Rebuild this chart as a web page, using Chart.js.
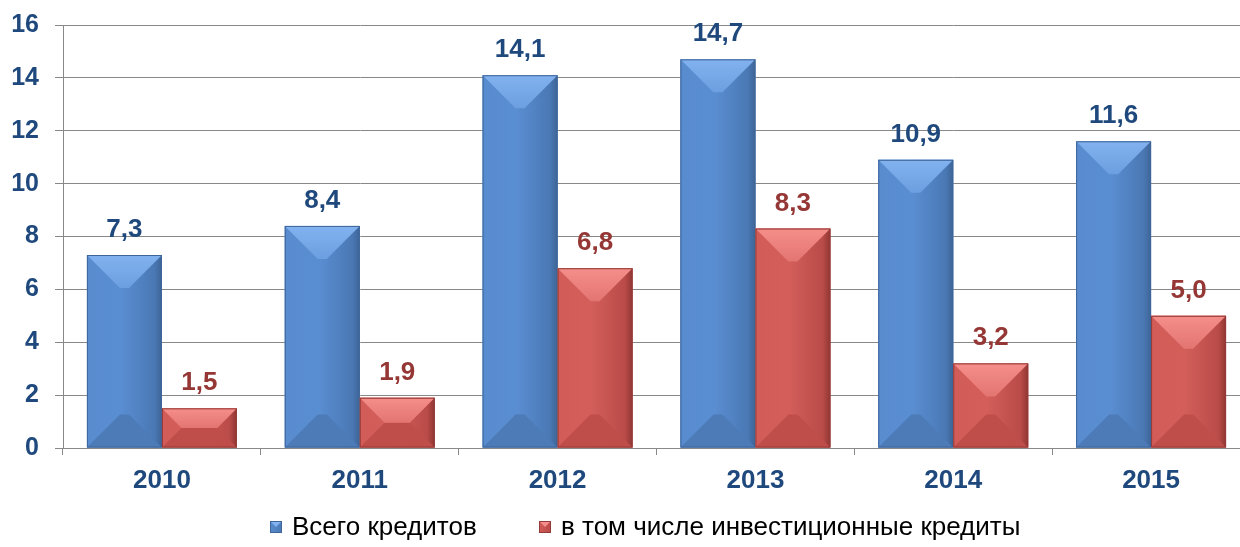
<!DOCTYPE html>
<html>
<head>
<meta charset="utf-8">
<script src="https://cdn.jsdelivr.net/npm/chart.js@4/dist/chart.umd.min.js"></script>
<style>
  html, body { margin: 0; padding: 0; overflow: hidden; background: #ffffff; }
  #wrap { width: 1250px; height: 547px; position: relative; }
</style>
</head>
<body>
<div id="wrap"><canvas id="c"></canvas></div>
<script>
// ---- data ----
const years = ['2010', '2011', '2012', '2013', '2014', '2015'];
const totalLoans = [7.3, 8.4, 14.1, 14.7, 10.9, 11.6];
const investLoans = [1.5, 1.9, 6.8, 8.3, 3.2, 5.0];
const seriesNames = ['Всего кредитов', 'в том числе инвестиционные кредиты'];
const yMin = 0, yMax = 16, yStep = 2;

// ---- styles ----
const FONT = '"Liberation Sans", Arial, sans-serif';
const AXIS_BLUE = '#1F497D';
const GRID = '#888888';
const AREA_TOP = 25, AREA_BOTTOM = 448, AREA_LEFT = 63;
const palettes = [
  { left: '#588CCF', mid: '#5A8ED2', right: '#4A78B4', edge: '#3D6496', top1: '#82B2EF', top2: '#6C9FE0',
    bottom: '#4C7BB8', outline: '#3F6699', label: '#1F497D' },
  { left: '#D25C58', mid: '#D35E5A', right: '#B94B48', edge: '#8F3633', top1: '#F58E8A', top2: '#E37571',
    bottom: '#BF4E4A', outline: '#943A37', label: '#953735' }
];

function fmt(v) { return v.toFixed(1).replace('.', ','); }

const bevelPlugin = {
  id: 'bevel',
  afterDatasetsDraw(chart) {
    const ctx = chart.ctx;
    chart.data.datasets.forEach((ds, di) => {
      const meta = chart.getDatasetMeta(di);
      const p = palettes[di];
      meta.data.forEach(el => {
        const { x, y, base, width } = el.getProps(['x', 'y', 'base', 'width'], true);
        const l = x - width / 2, r = x + width / 2;
        const t = Math.min(y, base), b = Math.max(y, base);
        const h = b - t;
        const bv = Math.min(width * 0.44, h / 2);
        ctx.save();
        const g = ctx.createLinearGradient(l, 0, r, 0);
        g.addColorStop(0, p.left); g.addColorStop(0.45, p.mid); g.addColorStop(0.9, p.right); g.addColorStop(1, p.edge);
        ctx.fillStyle = g;
        ctx.fillRect(l, t, width, h);
        ctx.fillStyle = p.bottom;
        ctx.beginPath(); ctx.moveTo(l, b); ctx.lineTo(l + bv, b - bv); ctx.lineTo(r - bv, b - bv); ctx.lineTo(r, b); ctx.closePath(); ctx.fill();
        const tg = ctx.createLinearGradient(0, t, 0, t + bv);
        tg.addColorStop(0, p.top1); tg.addColorStop(1, p.top2);
        ctx.fillStyle = tg;
        ctx.beginPath(); ctx.moveTo(l, t); ctx.lineTo(r, t); ctx.lineTo(r - bv, t + bv); ctx.lineTo(l + bv, t + bv); ctx.closePath(); ctx.fill();
        ctx.strokeStyle = p.outline; ctx.lineWidth = 1;
        ctx.strokeRect(l + 0.5, t + 0.5, width - 1, h - 1);
        ctx.restore();
      });
    });
  }
};

const labelPlugin = {
  id: 'valueLabels',
  afterDatasetsDraw(chart) {
    const ctx = chart.ctx;
    ctx.save();
    ctx.font = 'bold 26px ' + FONT;
    ctx.textAlign = 'center';
    ctx.textBaseline = 'alphabetic';
    chart.data.datasets.forEach((ds, di) => {
      const meta = chart.getDatasetMeta(di);
      ctx.fillStyle = palettes[di].label;
      meta.data.forEach((el, i) => {
        const { x, y } = el.getProps(['x', 'y'], true);
        ctx.fillText(fmt(ds.data[i]), x, y - 18);
      });
    });
    ctx.restore();
  }
};

const legendPlugin = {
  id: 'customLegend',
  afterDraw(chart) {
    const ctx = chart.ctx;
    ctx.save();
    ctx.font = '26px ' + FONT;
    ctx.textBaseline = 'middle';
    const box = 12, gapBox = 10, gapItem = 62;
    const items = chart.data.datasets.map((ds, i) => ({ text: ds.label, w: ctx.measureText(ds.label).width, p: palettes[i] }));
    let total = 0;
    items.forEach((it, i) => { total += box + gapBox + it.w + (i < items.length - 1 ? gapItem : 0); });
    let x = 645 - total / 2;
    const cy = 527;
    items.forEach(it => {
      const bx = Math.round(x), by = cy - box / 2;
      const g = ctx.createLinearGradient(bx, 0, bx + box, 0);
      g.addColorStop(0, it.p.left); g.addColorStop(1, it.p.right);
      ctx.fillStyle = g; ctx.fillRect(bx, by, box, box);
      ctx.fillStyle = it.p.top1;
      ctx.beginPath(); ctx.moveTo(bx, by); ctx.lineTo(bx + box, by); ctx.lineTo(bx + box / 2, by + box / 2); ctx.closePath(); ctx.fill();
      ctx.strokeStyle = it.p.outline; ctx.lineWidth = 1;
      ctx.strokeRect(bx + 0.5, by + 0.5, box - 1, box - 1);
      ctx.fillStyle = '#000000';
      ctx.textAlign = 'left';
      ctx.fillText(it.text, bx + box + gapBox, cy + 1);
      x += box + gapBox + it.w + gapItem;
    });
    ctx.restore();
  }
};

const fix = { bottom: 0 };

const chart = new Chart(document.getElementById('c'), {
  type: 'bar',
  data: {
    labels: years,
    datasets: [
      { label: seriesNames[0], data: totalLoans, backgroundColor: palettes[0].mid, borderWidth: 0 },
      { label: seriesNames[1], data: investLoans, backgroundColor: palettes[1].mid, borderWidth: 0 }
    ]
  },
  options: {
    responsive: true,
    maintainAspectRatio: false,
    animation: false,
    layout: { padding: { top: AREA_TOP, left: 0, right: 0, bottom: 0 } },
    datasets: { bar: { categoryPercentage: 0.758, barPercentage: 1.0 } },
    plugins: { legend: { display: false }, tooltip: { enabled: false } },
    scales: {
      x: {
        offset: true,
        grid: { offset: true, drawOnChartArea: false, drawTicks: true, tickLength: 7, color: GRID },
        border: { color: GRID, width: 1 },
        ticks: { padding: 10, color: AXIS_BLUE, font: { family: FONT, size: 26, weight: 'bold' } },
        afterFit(scale) {
          scale.height = Math.max(0, 547 - AREA_BOTTOM + fix.bottom);
          scale.paddingLeft = 0; scale.paddingRight = 0;
        }
      },
      y: {
        min: yMin, max: yMax,
        grid: { color: GRID, tickLength: 8 },
        border: { color: GRID, width: 1 },
        ticks: { stepSize: yStep, padding: 16, color: AXIS_BLUE, font: { family: FONT, size: 25, weight: 'bold' } },
        afterFit(scale) {
          scale.width = AREA_LEFT;
          scale.paddingTop = 0; scale.paddingBottom = 0;
        }
      }
    }
  },
  plugins: [bevelPlugin, labelPlugin, legendPlugin]
});

// bring the plot area's top and bottom to where the reference has them
for (let k = 0; k < 3; k++) {
  const ca = chart.chartArea;
  const dTop = ca.top - AREA_TOP;
  const dBottom = ca.bottom - AREA_BOTTOM;
  if (Math.abs(dTop) < 0.5 && Math.abs(dBottom) < 0.5) break;
  chart.config.options.layout.padding.top = Math.max(0, chart.config.options.layout.padding.top - dTop);
  fix.bottom += dBottom;
  chart.update();
}
</script>
</body>
</html>
